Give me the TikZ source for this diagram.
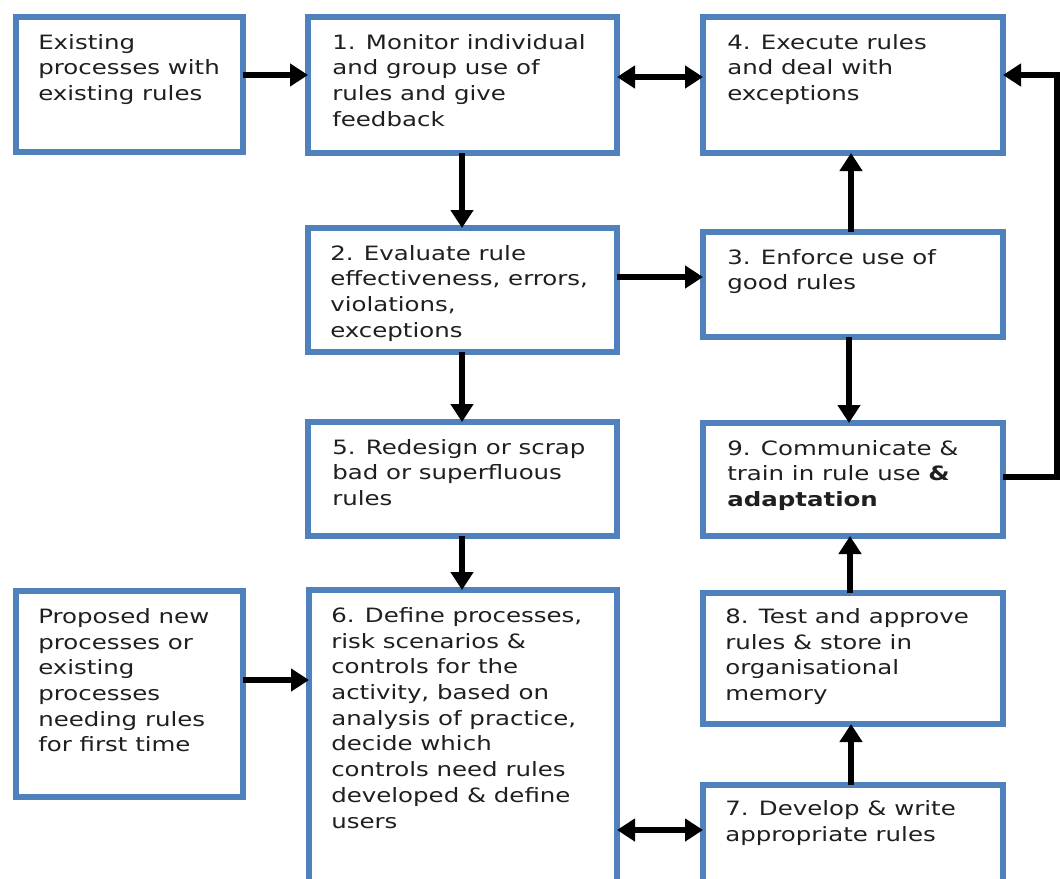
\documentclass[tikz,border=0pt]{standalone}
\usepackage{fontspec}
\setmainfont{DejaVu Sans}[FakeStretch=1.24]
\usetikzlibrary{arrows.meta,calc,fit}
\definecolor{boxblue}{RGB}{79,129,189}
\begin{document}
\begin{tikzpicture}[x=0.75pt,y=-0.75pt,
  box/.style={draw=boxblue, line width=4.3pt, fill=white, inner sep=0pt, outer sep=0pt},
  txt/.style={anchor=north west, inner sep=0pt, align=left,
    font=\fontsize{14.8}{19.3}\selectfont, text=black!88, execute at begin node=\strut},
  tip/.tip={Triangle[length=13.5pt,width=16.5pt]},
  arr/.style={line width=5pt, -tip},
  darr/.style={line width=5pt, tip-tip}]
\useasboundingbox (0,0) rectangle (1060,878);
\fill[white] (0,0) rectangle (1060,878);
\clip (0,0) rectangle (1060,878);

% boxes
\node[box, fit={(16,17) (243,152)}] (e) {};
\node[box, fit={(308,17) (617,153)}] (n1) {};
\node[box, fit={(703,17) (1003,153)}] (n4) {};
\node[box, fit={(308,228) (617,352)}] (n2) {};
\node[box, fit={(703,232) (1003,337)}] (n3) {};
\node[box, fit={(308,422) (617,536)}] (n5) {};
\node[box, fit={(703,423) (1003,536)}] (n9) {};
\node[box, fit={(16,591) (243,797)}] (p) {};
\node[box, fit={(309,590) (617,892)}] (n6) {};
\node[box, fit={(703,593) (1003,724)}] (n8) {};
\node[box, fit={(703,785) (1003,892)}] (n7) {};

% texts
\node[txt] (te) at ($(e.north west)+(22,17)$) {Existing\\processes with\\existing rules};
\node[txt] (t1) at ($(n1.north west)+(24,17)$) {1. Monitor individual\\and group use of\\rules and give\\feedback};
\node[txt] (t4) at ($(n4.north west)+(24,17)$) {4. Execute rules\\and deal with\\exceptions};
\node[txt] (t2) at ($(n2.north west)+(22,17)$) {2. Evaluate rule\\effectiveness, errors,\\violations,\\exceptions};
\node[txt] (t3) at ($(n3.north west)+(24,17)$) {3. Enforce use of\\good rules};
\node[txt] (t5) at ($(n5.north west)+(24,17)$) {5. Redesign or scrap\\bad or superfluous\\rules};
\node[txt] (t9) at ($(n9.north west)+(24,17)$) {9. Communicate \&\\train in rule use \textbf{\&}\\\textbf{adaptation}};
\node[txt] (tp) at ($(p.north west)+(22,17)$) {Proposed new\\processes or\\existing\\processes\\needing rules\\for first time};
\node[txt] (t6) at ($(n6.north west)+(22,17)$) {6. Define processes,\\risk scenarios \&\\controls for the\\activity, based on\\analysis of practice,\\decide which\\controls need rules\\developed \& define\\users};
\node[txt] (t8) at ($(n8.north west)+(22,15)$) {8. Test and approve\\rules \& store in\\organisational\\memory};
\node[txt] (t7) at ($(n7.north west)+(22,15)$) {7. Develop \& write\\appropriate rules};

% connectors
\draw[arr] (e.east |- 0,75) -- (n1.west |- 0,75);
\draw[darr] (n1.east |- 0,77) -- (n4.west |- 0,77);
\draw[arr] (n1.south -| 462,0) -- (n2.north -| 462,0);
\draw[arr] (n2.east |- 0,277) -- (n3.west |- 0,277);
\draw[arr] (n2.south -| 462,0) -- (n5.north -| 462,0);
\draw[arr] (n3.north -| 851,0) -- (n4.south -| 851,0);
\draw[arr] (n3.south -| 849,0) -- (n9.north -| 849,0);
\draw[arr] (n5.south -| 462,0) -- (n6.north -| 462,0);
\draw[arr] (p.east |- 0,680) -- (n6.west |- 0,680);
\draw[darr] (n6.east |- 0,830) -- (n7.west |- 0,830);
\draw[arr] (n7.north -| 851,0) -- (n8.south -| 851,0);
\draw[arr] (n8.north -| 850,0) -- (n9.south -| 850,0);
\draw[arr, line join=miter] (n9.east |- 0,477) -- (1057,477) -- (1057,75) -- (n4.east |- 0,75);
\end{tikzpicture}
\end{document}
